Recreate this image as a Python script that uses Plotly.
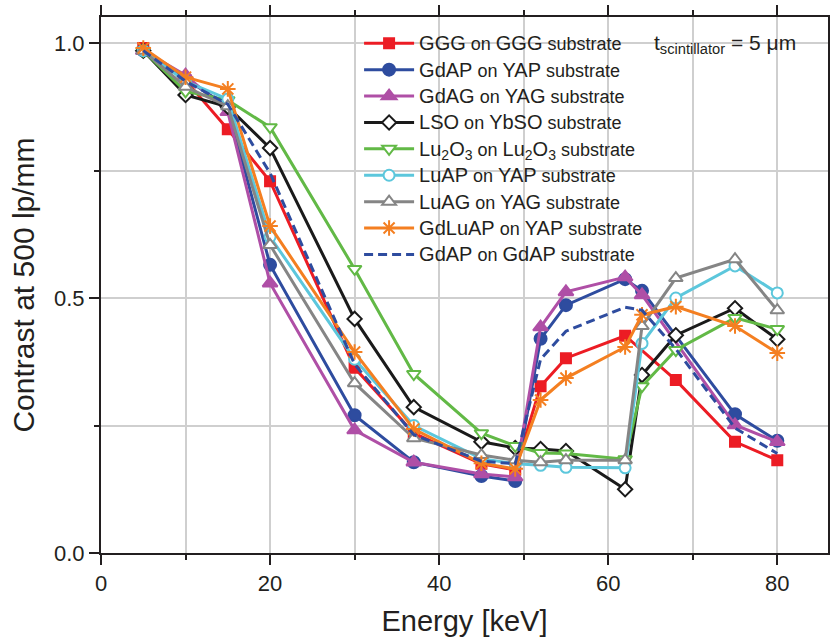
import plotly.graph_objects as go

energy = [5, 10, 15, 20, 30, 37, 45, 49, 52, 55, 62, 64, 68, 75, 80]

ggg_ggg = [0.99, 0.927, 0.831, 0.729, 0.363, 0.235, 0.175, 0.163, 0.327, 0.382, 0.426, None, 0.339, 0.218, 0.182]
gdap_yap = [0.985, 0.93, 0.875, 0.565, 0.27, 0.178, 0.151, 0.141, 0.42, 0.486, 0.537, 0.514, None, 0.272, 0.22]
gdag_yag = [0.985, 0.937, 0.865, 0.529, 0.241, 0.178, 0.155, 0.149, 0.443, 0.512, 0.541, 0.506, None, 0.251, 0.218]
lso_ybso = [0.985, 0.898, 0.875, 0.794, 0.459, 0.286, 0.218, 0.206, 0.204, 0.2, 0.125, 0.349, 0.427, 0.48, 0.419]
lu2o3 = [0.985, 0.905, 0.888, 0.835, 0.557, 0.351, 0.235, 0.21, 0.196, 0.195, 0.184, 0.327, 0.398, 0.461, 0.439]
luap_yap = [0.985, 0.925, 0.89, 0.62, 0.38, 0.25, 0.185, 0.175, 0.172, 0.168, 0.167, 0.411, 0.5, 0.563, 0.51]
luag_yag = [0.985, 0.914, 0.876, 0.604, 0.333, 0.225, 0.192, 0.182, 0.178, 0.182, 0.182, 0.445, 0.539, 0.576, 0.476]
gdluap_yap = [0.99, 0.933, 0.91, 0.641, 0.394, 0.243, 0.176, 0.165, 0.3, 0.343, 0.404, 0.467, 0.483, 0.445, 0.392]
gdap_gdap = [0.985, 0.925, 0.88, 0.745, 0.37, 0.232, 0.18, 0.175, 0.38, 0.435, 0.482, 0.476, 0.40, 0.245, 0.195]

B = "<span style='font-size:20px'>"
E = "</span>"


def nm(a, b):
    return f"{B}{a}{E} on {B}{b}{E} substrate"


series = [
    (nm("GGG", "GGG"), ggg_ggg, "#EC1C24", "square", "#EC1C24", 10),
    (nm("GdAP", "YAP"), gdap_yap, "#2E4C9F", "circle", "#2E4C9F", 12),
    (nm("GdAG", "YAG"), gdag_yag, "#AF4FA6", "triangle-up", "#AF4FA6", 13),
    (nm("LSO", "YbSO"), lso_ybso, "#1A1A1A", "diamond", "white", 11),
    (nm("Lu<sub>2</sub>O<sub>3</sub>", "Lu<sub>2</sub>O<sub>3</sub>"), lu2o3, "#62B946", "triangle-down", "white", 12),
    (nm("LuAP", "YAP"), luap_yap, "#5CC7DC", "circle", "white", 11),
    (nm("LuAG", "YAG"), luag_yag, "#858585", "triangle-up", "white", 12),
    (nm("GdLuAP", "YAP"), gdluap_yap, "#F47F21", "asterisk-open", "#F47F21", 13),
]

fig = go.Figure()
for name, vals, col, sym, fill, size in series:
    fig.add_trace(go.Scatter(
        x=energy, y=vals, name=name, mode="lines+markers", connectgaps=True,
        line=dict(color=col, width=3),
        marker=dict(symbol=sym, size=size, color=fill, line=dict(color=col, width=2)),
    ))
fig.add_trace(go.Scatter(
    x=energy, y=gdap_gdap, name=nm("GdAP", "GdAP"), mode="lines", connectgaps=True,
    line=dict(color="#2E4C9F", width=3, dash="9px,5px"),
))

font_family = "Liberation Sans, Arial, sans-serif"
grid_col = "#CFCFCF"
ink = "#231F20"

fig.update_layout(
    width=832, height=644,
    margin=dict(l=101, r=2, t=17, b=91),
    paper_bgcolor="white", plot_bgcolor="white",
    font=dict(family=font_family, color=ink, size=22),
    showlegend=True,
    legend=dict(
        x=0.355, y=0.985, xanchor="left", yanchor="top",
        bgcolor="rgba(0,0,0,0)", font=dict(size=18, color=ink),
        itemwidth=50, tracegroupgap=0,
    ),
    xaxis=dict(
        range=[0, 86], tick0=0, dtick=20, ticks="outside", ticklen=10, tickwidth=2,
        tickcolor=ink, showline=True, linecolor=ink, linewidth=2, mirror="ticks",
        showgrid=True, gridcolor=grid_col, gridwidth=1.6, zeroline=False,
        minor=dict(dtick=10, tick0=0, ticks="outside", ticklen=5, tickwidth=2, tickcolor=ink,
                   showgrid=True, gridcolor=grid_col, gridwidth=1.6),
        title=dict(text="Energy [keV]", font=dict(size=29), standoff=15),
        tickfont=dict(size=22),
    ),
    yaxis=dict(
        range=[0, 1.051], tick0=0, dtick=0.5, tickformat=".1f", ticks="outside", ticklen=10, tickwidth=2,
        tickcolor=ink, showline=True, linecolor=ink, linewidth=2, mirror=True,
        showgrid=True, gridcolor=grid_col, gridwidth=1.6, zeroline=False,
        minor=dict(dtick=0.25, tick0=0, ticks="outside", ticklen=5, tickwidth=2, tickcolor=ink,
                   showgrid=True, gridcolor=grid_col, gridwidth=1.6),
        title=dict(text="Contrast at 500 lp/mm", font=dict(size=30), standoff=11),
        tickfont=dict(size=22),
    ),
    xaxis2=dict(
        overlaying="x", anchor="y", side="bottom", range=[0, 86], tick0=0, dtick=20,
        ticks="inside", ticklen=10, tickwidth=2, tickcolor=ink, mirror="ticks",
        showticklabels=False, showgrid=False, zeroline=False, showline=False,
        minor=dict(dtick=10, tick0=0, ticks="inside", ticklen=5, tickwidth=2, tickcolor=ink),
    ),
    yaxis2=dict(
        overlaying="y", anchor="x", side="left", range=[0, 1.051], tick0=0, dtick=0.5,
        ticks="inside", ticklen=10, tickwidth=2, tickcolor=ink, mirror="ticks",
        showticklabels=False, showgrid=False, zeroline=False, showline=False,
        minor=dict(dtick=0.25, tick0=0, ticks="inside", ticklen=5, tickwidth=2, tickcolor=ink),
    ),
    annotations=[dict(
        text="t<sub>scintillator</sub> = 5 μm", xref="paper", yref="paper",
        x=0.758, y=0.95, xanchor="left", yanchor="middle", showarrow=False,
        font=dict(size=21, color=ink),
    )],
)

fig.write_html("out.html")
